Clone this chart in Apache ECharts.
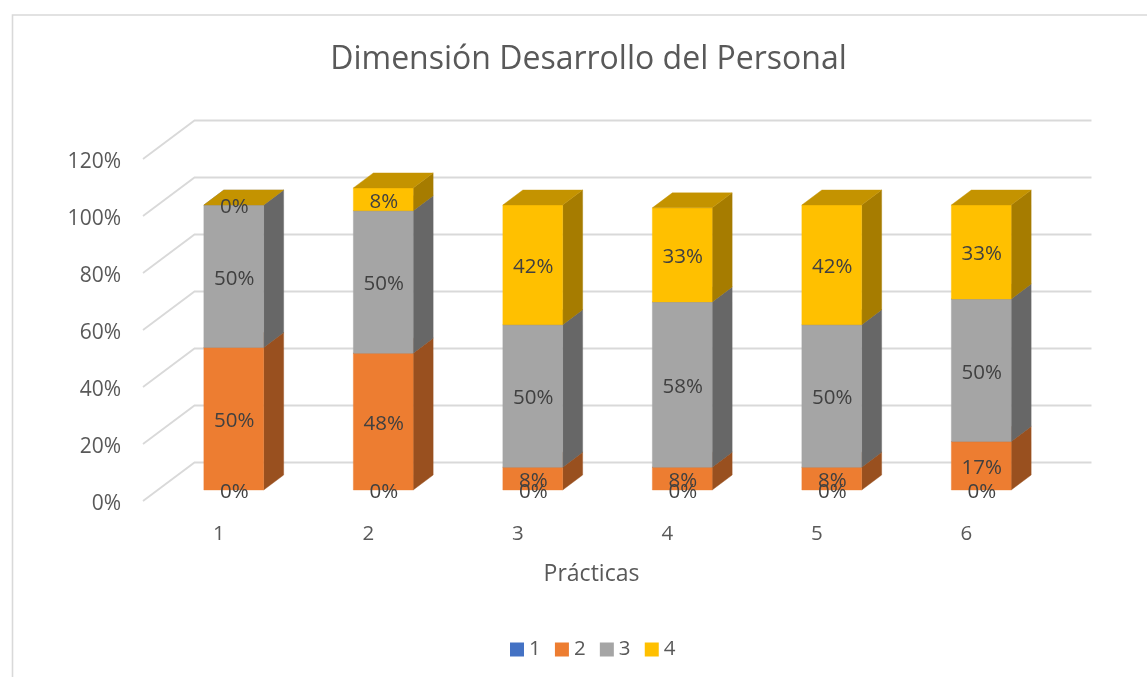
<!DOCTYPE html>
<html>
<head>
<meta charset="utf-8">
<style>html,body{margin:0;padding:0;background:#fff;overflow:hidden}#c{width:1147px;height:677px}</style>
<script src="https://cdn.jsdelivr.net/npm/echarts@6/dist/echarts.min.js"></script>
</head>
<body>
<div id="c"></div>
<script>
const categories = ['1','2','3','4','5','6'];
const s1 = [0,0,0,0,0,0];
const s2 = [50,48,8,8,8,17];
const s3 = [50,50,50,58,50,50];
const s4 = [0,8,42,33,42,33];
const seriesNames = ['1','2','3','4'];
const yTicks = [0,20,40,60,80,100,120];

const FONT = '"Open Sans"';
const TEXT = '#595959';
const LABEL = '#404040';
const palette = [
  {front:'#4472C4', side:'#29447A', top:'#365B9E'},
  {front:'#ED7D31', side:'#99501F', top:'#BE6427'},
  {front:'#A5A5A5', side:'#676767', top:'#848484'},
  {front:'#FFC000', side:'#A67C00', top:'#C49300'}
];
// oblique projection
const FLOOR_DY = -3;                   // axis tick -> front edge of the side wall
const WALL_DX = 51.5, WALL_DY = -38.5; // front floor edge -> back wall
const BAR_DX = 16, BAR_DY = -11 + FLOOR_DY; // front floor edge -> bar front face
const DEPTH_DX = 20, DEPTH_DY = -15;   // bar depth
const BAR_RATIO = 0.4;

function poly(points, fill, z2){
  return {type:'polygon', shape:{points}, style:{fill, stroke:fill, lineWidth:0.4}, z2};
}
function barSeries(idx, values, bases, z){
  const c = palette[idx];
  return {
    name: seriesNames[idx],
    type:'custom',
    coordinateSystem:'cartesian2d',
    itemStyle:{color:c.front},
    encode:{x:0,y:1},
    z,
    silent:true,
    data: values.map((v,i)=>[i, bases[i]+v, bases[i], v]),
    renderItem(params, api){
      const i = api.value(0), top = api.value(1), base = api.value(2), v = api.value(3);
      const pt = api.coord([i, top]), pb = api.coord([i, base]);
      const w = api.size([1,0])[0]*BAR_RATIO;
      const cx = pt[0]+BAR_DX;
      const l = cx-w/2, r = cx+w/2;
      const yt = pt[1]+BAR_DY, yb = pb[1]+BAR_DY;
      const children = [];
      if (idx>0){
        if (yb>yt) {
          children.push(poly([[r,yb],[r+DEPTH_DX,yb+DEPTH_DY],[r+DEPTH_DX,yt+DEPTH_DY],[r,yt]], c.side, 1));
          children.push(poly([[l,yt],[r,yt],[r,yb],[l,yb]], c.front, 2));
        }
        children.push(poly([[l,yt],[r,yt],[r+DEPTH_DX,yt+DEPTH_DY],[l+DEPTH_DX,yt+DEPTH_DY]], c.top, 3));
      }
      children.push({type:'text', z2:10, style:{
        text:v+'%', x:cx+0.5, y:(yt+yb)/2+2.5, align:'center', verticalAlign:'middle',
        font:'20.5px '+FONT, fill:LABEL
      }});
      return {type:'group', children};
    }
  };
}
const zeros = categories.map(()=>0);
const b2 = s2.slice();
const b3 = s2.map((v,i)=>v+s3[i]);

const chart = echarts.init(document.getElementById('c'), null, {renderer:'canvas'});
chart.setOption({
  animation:false,
  backgroundColor:'#fff',
  title:{
    text:'Dimensión Desarrollo del Personal',
    left:583.5, top:55, textAlign:'center', textVerticalAlign:'middle',
    textStyle:{fontFamily:FONT, fontSize:32, fontWeight:'normal', color:TEXT}
  },
  graphic:[{type:'rect', shape:{x:12.5,y:15,width:1200,height:720}, style:{fill:'none', stroke:'#D9D9D9', lineWidth:1.6}, silent:true, z:-1}],
  legend:{
    data:seriesNames, left:505, top:634, icon:'rect', itemWidth:14, itemHeight:14, itemGap:14.2,
    textStyle:{fontFamily:FONT, fontSize:20.5, color:TEXT}, selectedMode:false
  },
  grid:{left:143, right:107, top:162, bottom:173, containLabel:false},
  xAxis:{
    type:'category', data:categories,
    axisLine:{show:false}, axisTick:{show:false}, splitLine:{show:false},
    axisLabel:{fontFamily:FONT, fontSize:20.5, color:TEXT, margin:20, padding:[0,0,0,2]},
    name:'Prácticas', nameLocation:'middle', nameGap:59,
    nameTextStyle:{fontFamily:FONT, fontSize:23, color:TEXT}
  },
  yAxis:{
    type:'value', min:0, max:120, interval:20,
    axisLine:{show:false}, axisTick:{show:false}, splitLine:{show:false},
    axisLabel:{fontFamily:FONT, fontSize:21, color:TEXT, margin:22, formatter:'{value}%'}
  },
  series:[
    {
      name:'walls', type:'custom', coordinateSystem:'cartesian2d', silent:true, z:1,
      encode:{y:0}, data:yTicks.map(v=>[v]),
      renderItem(params, api){
        const v = api.value(0);
        const band = api.size([1,0])[0];
        const p = api.coord([0, v]);
        const x0 = p[0]-band/2, x1 = x0+band*categories.length;
        const y = p[1]+FLOOR_DY;
        return {type:'polyline', shape:{points:[[x0,y],[x0+WALL_DX,y+WALL_DY],[x1+WALL_DX,y+WALL_DY]]},
          style:{fill:'none', stroke:'#D9D9D9', lineWidth:1.8}};
      }
    },
    barSeries(0, s1, zeros, 10),
    barSeries(1, s2, zeros, 4),
    barSeries(2, s3, b2, 5),
    barSeries(3, s4, b3, 6)
  ]
});
</script>
</body>
</html>
